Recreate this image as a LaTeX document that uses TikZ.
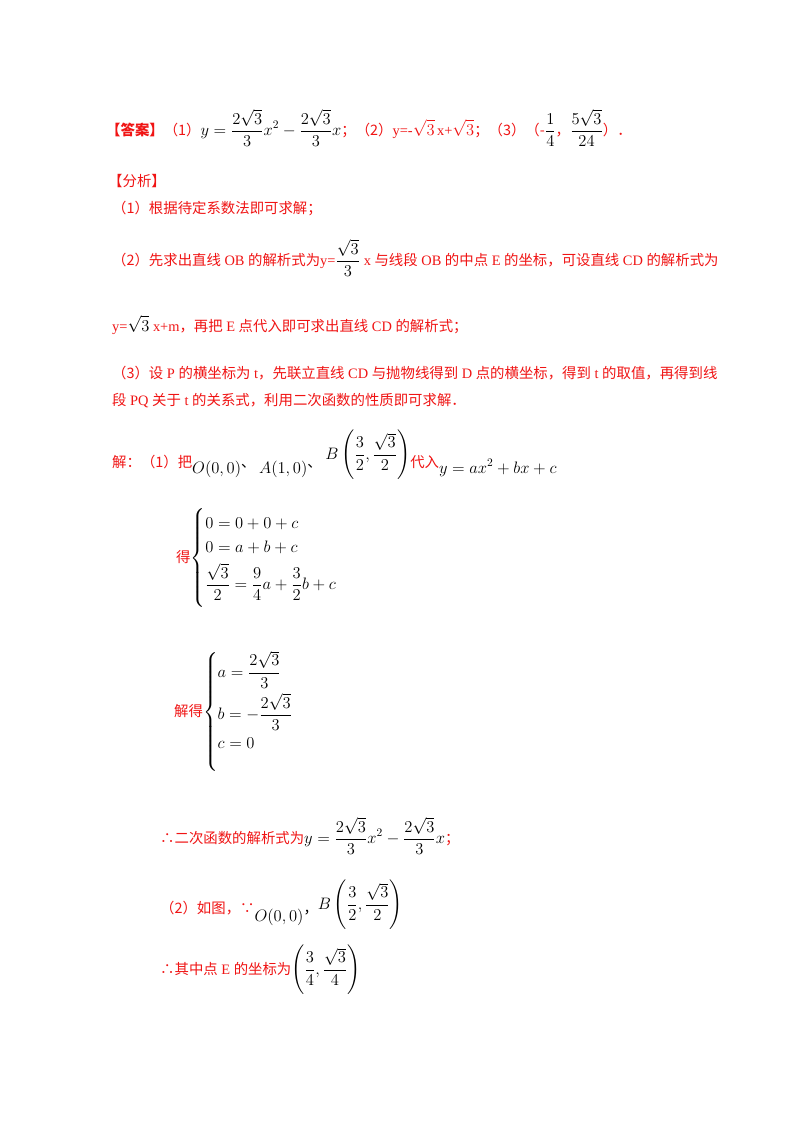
\documentclass[tikz,border=0pt]{standalone}
\usepackage{amsmath}
\usepackage{graphicx}
\usepackage{fontspec}
\setmainfont{Liberation Serif}
\newfontfamily\cjk{Noto Sans CJK SC}
\definecolor{rd}{RGB}{240,20,20}
\newcommand{\Mz}[1]{\scalebox{1.15}{$\displaystyle #1$}}
\begin{document}
\begin{tikzpicture}[x=1pt,y=-1pt,
  ln/.style={anchor=west,inner sep=0pt,font=\fontsize{14.4}{17}\selectfont}]
\useasboundingbox (0,0) rectangle (800,1132);
\fill[white] (0,0) rectangle (800,1132);
\node[ln] (r1) at (106,128) {\textcolor{rd}{\cjk\bfseries 【答案】}\textcolor{rd}{\cjk（1）}\Mz{y=\frac{2\sqrt3}{3}x^2-\frac{2\sqrt3}{3}x}\textcolor{rd}{\cjk ；（2）}\textcolor{rd}{y=-\Mz{\sqrt3}\,x+\Mz{\sqrt3}}\textcolor{rd}{\cjk ；（3）（-}\Mz{\frac14}\textcolor{rd}{\cjk ，}\Mz{\frac{5\sqrt3}{24}}\textcolor{rd}{\cjk ）．}};
\node[ln,text=rd] (r2) at (108,181) {\cjk 【分析】};
\node[ln,text=rd] (r3) at (112,208) {\cjk（1）根据待定系数法即可求解；};
\node[ln,text=rd] (r4) at (112,258) {\cjk（2）先求出直线\rmfamily\ OB \cjk 的解析式为\rmfamily y=\textcolor{black}{\Mz{\frac{\sqrt3}{3}}} x \cjk 与线段\rmfamily\ OB \cjk 的中点\rmfamily\ E \cjk 的坐标，可设直线\rmfamily\ CD \cjk 的解析式为};
\node[ln,text=rd] (r5) at (112,325) {y=\textcolor{black}{\Mz{\sqrt3}} x+m\cjk ，再把\rmfamily\ E \cjk 点代入即可求出直线\rmfamily\ CD \cjk 的解析式；};
\node[ln,text=rd] (r6) at (112,373) {\cjk（3）设\rmfamily\ P \cjk 的横坐标为\rmfamily\ t\cjk ，先联立直线\rmfamily\ CD \cjk 与抛物线得到\rmfamily\ D \cjk 点的横坐标，得到\rmfamily\ t \cjk 的取值，再得到线};
\node[ln,text=rd] (r7) at (112,401) {\cjk 段\rmfamily\ PQ \cjk 关于\rmfamily\ t \cjk 的关系式，利用二次函数的性质即可求解．};
\node[ln] (r8) at (112,455) {\textcolor{rd}{\cjk 解：（1）把}\raisebox{-6pt}{\Mz{O(0,0)}}\cjk 、\rmfamily\ \raisebox{-6pt}{\Mz{A(1,0)}}\cjk 、\rmfamily\ \raisebox{8pt}{\Mz{B\left(\frac32,\frac{\sqrt3}{2}\right)}}\textcolor{rd}{\cjk 代入}\raisebox{-6pt}{\Mz{y=ax^2+bx+c}}};
\node[ln] (r9) at (176,558) {\textcolor{rd}{\cjk 得}\Mz{\left\{\rule{0pt}{46pt}\begin{aligned}[c]&0=0+0+c\\[1pt]&0=a+b+c\\[0pt]&\frac{\sqrt3}{2}=\frac94a+\frac32b+c\end{aligned}\right.}};
\node[ln] (r10) at (174,712) {\textcolor{rd}{\cjk 解得}\Mz{\left\{\rule{0pt}{52pt}\begin{aligned}[c]&a=\frac{2\sqrt3}{3}\\[0pt]&b=-\frac{2\sqrt3}{3}\\[0pt]&c=0\\[16pt]\end{aligned}\right.}};
\node[ln] (r11) at (160,836) {\textcolor{rd}{\cjk ∴二次函数的解析式为}\Mz{y=\frac{2\sqrt3}{3}x^2-\frac{2\sqrt3}{3}x}\textcolor{rd}{\cjk ；}};
\node[ln] (r12) at (160,905) {\textcolor{rd}{\cjk（2）如图，∵}\raisebox{-8pt}{\Mz{O(0,0)}}\cjk ，\rmfamily\raisebox{4pt}{\Mz{B\left(\frac32,\frac{\sqrt3}{2}\right)}}};
\node[ln] (r13) at (160,970) {\textcolor{rd}{\cjk ∴其中点\rmfamily\ E \cjk 的坐标为}\Mz{\left(\frac34,\frac{\sqrt3}{4}\right)}};
\end{tikzpicture}
\end{document}
